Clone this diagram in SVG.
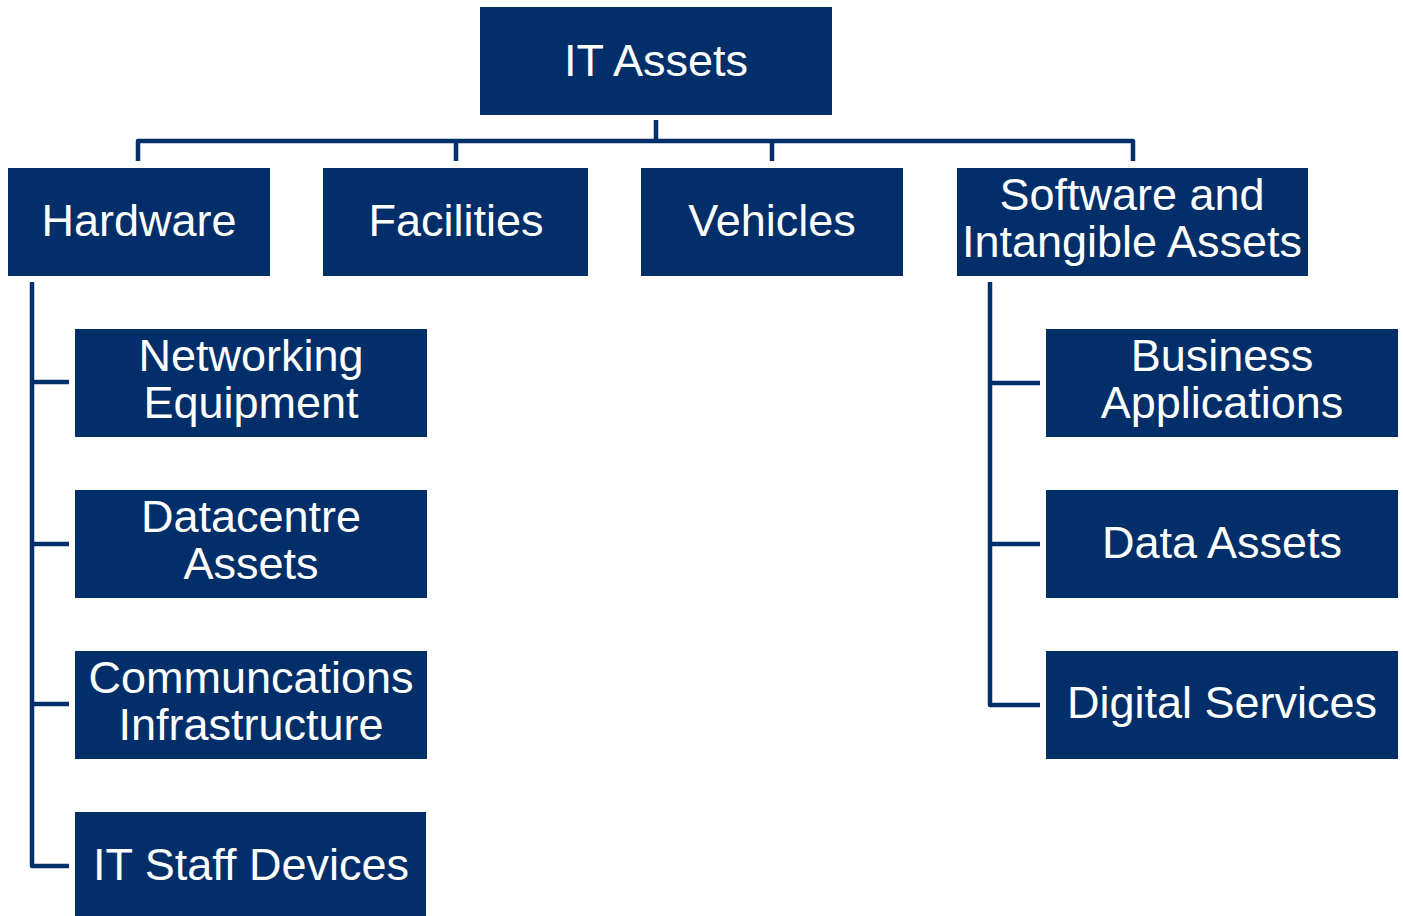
<svg xmlns="http://www.w3.org/2000/svg" width="1403" height="916" viewBox="0 0 1403 916">
<style>
.box{fill:#022f69}
.lbl{fill:#ffffff;font-family:"Liberation Sans",Arial,sans-serif;font-size:45px;text-anchor:middle}
.con{fill:none;stroke:#022f69;stroke-width:4.5;stroke-linejoin:round}
</style>
<rect width="1403" height="916" fill="#ffffff"/>
<g id="connectors">
<path class="con" d="M656 120 V141 M138 161 V141 H1133 V161 M456 141 V161 M772 141 V161"/>
<path class="con" d="M32 282 V866 H69 M32 382 H69 M32 544 H69 M32 704 H69"/>
<path class="con" d="M990 282 V705 H1040 M990 383 H1040 M990 544 H1040"/>
</g>
<g id="it-assets"><rect class="box" x="480" y="7" width="352" height="108"/><text class="lbl" x="656" y="76">IT Assets</text></g>
<g id="hardware"><rect class="box" x="8" y="168" width="262" height="108"/><text class="lbl" x="139" y="236">Hardware</text></g>
<g id="facilities"><rect class="box" x="323" y="168" width="265" height="108"/><text class="lbl" x="456" y="236">Facilities</text></g>
<g id="vehicles"><rect class="box" x="641" y="168" width="262" height="108"/><text class="lbl" x="772" y="236">Vehicles</text></g>
<g id="software"><rect class="box" x="957" y="168" width="351" height="108"/><text class="lbl" x="1132" y="210">Software and</text><text class="lbl" x="1132" y="257">Intangible Assets</text></g>
<g id="networking"><rect class="box" x="75" y="329" width="352" height="108"/><text class="lbl" x="251" y="371">Networking</text><text class="lbl" x="251" y="418">Equipment</text></g>
<g id="datacentre"><rect class="box" x="75" y="490" width="352" height="108"/><text class="lbl" x="251" y="532">Datacentre</text><text class="lbl" x="251" y="579">Assets</text></g>
<g id="communications"><rect class="box" x="75" y="651" width="352" height="108"/><text class="lbl" x="251" y="693">Communcations</text><text class="lbl" x="251" y="740">Infrastructure</text></g>
<g id="staff-devices"><rect class="box" x="75" y="812" width="351" height="110"/><text class="lbl" x="251" y="880">IT Staff Devices</text></g>
<g id="business-apps"><rect class="box" x="1046" y="329" width="352" height="108"/><text class="lbl" x="1222" y="371">Business</text><text class="lbl" x="1222" y="418">Applications</text></g>
<g id="data-assets"><rect class="box" x="1046" y="490" width="352" height="108"/><text class="lbl" x="1222" y="558">Data Assets</text></g>
<g id="digital-services"><rect class="box" x="1046" y="651" width="352" height="108"/><text class="lbl" x="1222" y="718">Digital Services</text></g>
</svg>
